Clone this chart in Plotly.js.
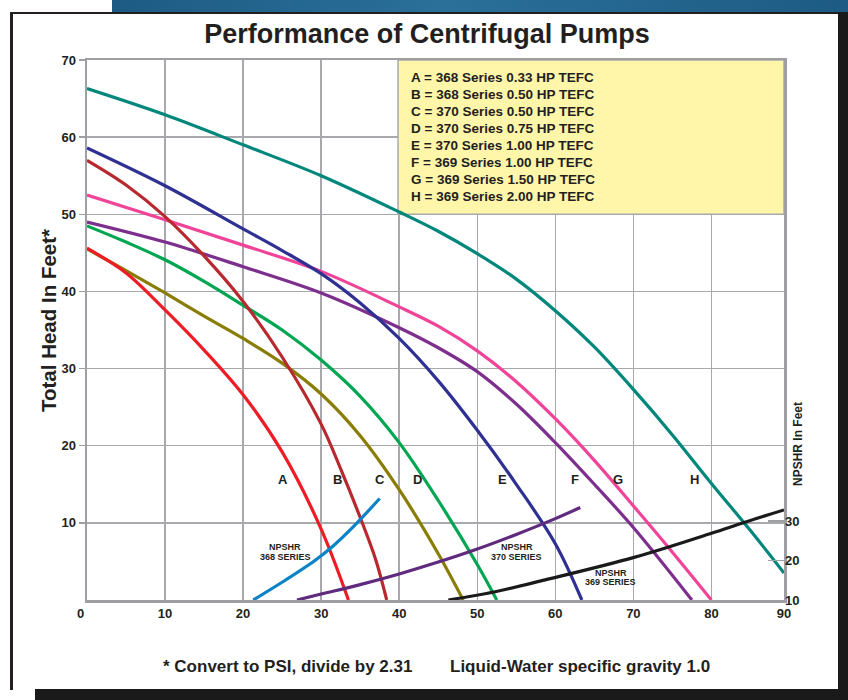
<!DOCTYPE html>
<html>
<head>
<meta charset="utf-8">
<script src="https://cdn.plot.ly/plotly-3.0.1.min.js"></script>
<style>
  html, body { margin:0; padding:0; background:#ffffff; }
  #wrap { position:relative; width:848px; height:700px; overflow:hidden; background:#ffffff; }
  .fr { position:absolute; }
  #chart { position:absolute; left:0; top:0; width:848px; height:700px; }
</style>
</head>
<body>
<div id="wrap">
  <div class="fr" style="left:112px;top:0;width:736px;height:12px;background:linear-gradient(90deg,#1d5b84 0%,#2a7099 45%,#1d5b84 100%);"></div>
  <div class="fr" style="left:10px;top:12px;width:828px;height:2px;background:#231f20;"></div>
  <div class="fr" style="left:10px;top:12px;width:3px;height:678px;background:#231f20;"></div>
  <div class="fr" style="left:838px;top:12px;width:10px;height:688px;background:#1a1a1a;"></div>
  <div class="fr" style="left:35px;top:689px;width:813px;height:11px;background:#1a1a1a;"></div>
  <div id="chart"></div>
</div>
<script>
// ---- Pump curves (flow in GPM, head in feet) ----
const xA = [0, 5, 10, 15, 20, 25, 30, 33.5];
const yA = [45.6, 42.4, 37.6, 32.4, 26.6, 19.2, 9.2, 0];
const xB = [0, 5, 10, 15, 20, 25, 30, 32.5, 35, 37, 38.4];
const yB = [57.0, 53.8, 49.7, 44.6, 38.7, 31.5, 22.8, 17.0, 10.7, 5.2, 0];
const xC = [0, 5, 10, 15, 20, 25, 30, 35, 40, 45, 48.2];
const yC = [45.5, 42.7, 39.8, 36.8, 33.9, 30.7, 26.7, 21.3, 14.3, 6.0, 0];
const xD = [0, 5, 10, 15, 20, 25, 30, 35, 40, 45, 50, 52.5];
const yD = [48.5, 46.4, 44.1, 41.3, 38.2, 35.0, 31.1, 26.4, 20.4, 12.9, 4.6, 0];
const xE = [0, 10, 20, 25, 30, 35, 40, 45, 50, 55, 60, 63.4];
const yE = [58.6, 53.7, 48.1, 45.3, 42.3, 38.5, 33.9, 28.4, 22.0, 15.0, 7.3, 0];
const xF = [0, 10, 20, 30, 40, 45, 50, 55, 60, 65, 70, 77.5];
const yF = [49.0, 46.4, 43.2, 39.8, 35.3, 32.7, 29.6, 25.4, 20.4, 15.0, 9.4, 0];
const xG = [0, 10, 20, 30, 40, 45, 50, 55, 60, 65, 70, 75, 80];
const yG = [52.5, 49.3, 46.0, 42.6, 38.0, 35.5, 32.3, 28.3, 23.5, 18.1, 12.2, 6.2, 0];
const xH = [0, 10, 20, 30, 40, 45, 50, 55, 60, 65, 70, 75, 80, 85, 89.3];
const yH = [66.3, 62.9, 59.0, 55.0, 50.3, 47.8, 44.9, 41.6, 37.5, 32.8, 27.3, 21.4, 15.1, 9.0, 3.5];

// ---- NPSHR curves (flow in GPM, NPSHR in feet, right axis) ----
const xN368 = [21.3, 25.4, 29.2, 31.5, 34.0, 37.5];
const yN368 = [10, 15.0, 20.0, 23.6, 28.3, 35.7];
const xN370 = [26.9, 30, 35, 40, 45, 50, 55, 60, 63.2];
const yN370 = [10, 11.5, 13.9, 16.6, 19.6, 22.9, 26.6, 30.6, 33.4];
const xN369 = [46.3, 52.3, 58.7, 70.1, 80.0, 84.3, 89.3];
const yN369 = [10, 12.1, 15.1, 20.8, 26.9, 29.7, 32.8];

// ---- Text ----
const curveLetters = ['A','B','C','D','E','F','G','H'];
const letterX = [25.15, 32.07, 37.6, 42.3, 53.2, 62.5, 68.0, 77.8];
const legendLines = [
  'A = 368 Series 0.33 HP TEFC',
  'B = 368 Series 0.50 HP TEFC',
  'C = 370 Series 0.50 HP TEFC',
  'D = 370 Series 0.75 HP TEFC',
  'E = 370 Series 1.00 HP TEFC',
  'F = 369 Series 1.00 HP TEFC',
  'G = 369 Series 1.50 HP TEFC',
  'H = 369 Series 2.00 HP TEFC'
];
const xTickVals = [10, 20, 30, 40, 50, 60, 70, 80, 89.3];
const xTickText = ['10','20','30','40','50','60','70','80','90'];
const yTickVals = [10, 20, 30, 40, 50, 60, 70];
const y2TickVals = [10, 20, 30];

const TXT = '#231f20';
const SANS = '"Liberation Sans", Arial, Helvetica, sans-serif';

function pump(x, y, color) {
  return {x: x, y: y, type: 'scatter', mode: 'lines', xaxis: 'x', yaxis: 'y',
    line: {color: color, width: 3.2, shape: 'spline', smoothing: 1.0}, hoverinfo: 'skip'};
}
function npshr(x, y, color) {
  return {x: x, y: y, type: 'scatter', mode: 'lines', xaxis: 'x', yaxis: 'y2',
    line: {color: color, width: 3.2, shape: 'spline', smoothing: 1.0}, hoverinfo: 'skip'};
}

const data = [
  pump(xH, yH, '#00877b'),
  pump(xG, yG, '#ef4498'),
  pump(xF, yF, '#7d2f8e'),
  pump(xE, yE, '#2e3192'),
  pump(xD, yD, '#00a651'),
  pump(xC, yC, '#8a7d06'),
  pump(xB, yB, '#b8292f'),
  pump(xA, yA, '#ee1c25'),
  npshr(xN368, yN368, '#0b83c6'),
  npshr(xN370, yN370, '#5f2b7f'),
  npshr(xN369, yN369, '#1a1a1a')
];

const PLOT_BOTTOM = 600, PX_PER_FT = 540 / 70;
const annotations = [];
legendLines.forEach(function (t, i) {
  const py = 77 + 17.14 * i;
  annotations.push({xref: 'x', yref: 'y', x: 41.25, y: (PLOT_BOTTOM - py) / PX_PER_FT,
    text: t, showarrow: false, xanchor: 'left', yanchor: 'middle',
    font: {family: SANS, size: 13.5, color: TXT, weight: 'bold'}});
});
curveLetters.forEach(function (t, i) {
  annotations.push({xref: 'x', yref: 'y', x: letterX[i], y: 15.56, text: t, showarrow: false,
    xanchor: 'center', yanchor: 'middle', font: {family: SANS, size: 13, color: TXT, weight: 'bold'}});
});
const npLab = [
  ['NPSHR', 25.4, 6.86], ['368 SERIES', 25.4, 5.62],
  ['NPSHR', 55.05, 6.86], ['370 SERIES', 55.05, 5.62],
  ['NPSHR', 67.1, 3.46], ['369 SERIES', 67.1, 2.29]
];
npLab.forEach(function (l) {
  annotations.push({xref: 'x', yref: 'y', x: l[1], y: l[2], text: l[0], showarrow: false,
    xanchor: 'center', yanchor: 'middle', font: {family: SANS, size: 9, color: TXT, weight: 'bold'}});
});
annotations.push({xref: 'paper', yref: 'paper', x: -7 / 697, y: -13 / 540, text: '0', showarrow: false,
  xanchor: 'center', yanchor: 'middle', font: {family: SANS, size: 13, color: TXT, weight: 'bold'}});
annotations.push({xref: 'paper', yref: 'paper', x: (48 - 87) / 697, y: (600 - 321) / 540,
  text: 'Total Head In Feet*', textangle: -90, showarrow: false, xanchor: 'center', yanchor: 'middle',
  font: {family: SANS, size: 20.5, color: TXT, weight: 'bold'}});
annotations.push({xref: 'paper', yref: 'paper', x: (798 - 87) / 697, y: (600 - 444) / 540,
  text: 'NPSHR In Feet', textangle: -90, showarrow: false, xanchor: 'center', yanchor: 'middle',
  font: {family: SANS, size: 12, color: TXT, weight: 'bold'}});
annotations.push({xref: 'paper', yref: 'paper', x: (287.5 - 87) / 697, y: (600 - 666) / 540,
  text: '* Convert to PSI, divide by 2.31', showarrow: false, xanchor: 'center', yanchor: 'middle',
  font: {family: SANS, size: 17, color: TXT, weight: 'bold'}});
annotations.push({xref: 'paper', yref: 'paper', x: (579.5 - 87) / 697, y: (600 - 666) / 540,
  text: 'Liquid-Water specific gravity 1.0', showarrow: false, xanchor: 'center', yanchor: 'middle',
  font: {family: SANS, size: 17, color: TXT, weight: 'bold'}});

const layout = {
  width: 848, height: 700,
  margin: {l: 87, r: 64, t: 60, b: 100, pad: 0},
  paper_bgcolor: 'rgba(0,0,0,0)',
  plot_bgcolor: '#ffffff',
  showlegend: false,
  hovermode: false,
  title: {text: 'Performance of Centrifugal Pumps', xref: 'container', yref: 'container',
    x: 427 / 848, y: 1 - 34 / 700, xanchor: 'center', yanchor: 'middle',
    font: {family: SANS, size: 27, color: TXT, weight: 'bold'}},
  xaxis: {range: [0, 89.3], tickvals: xTickVals, ticktext: xTickText, showgrid: true,
    gridcolor: '#a7a9ac', gridwidth: 1.5, zeroline: false, showline: true, linecolor: '#9d9fa2',
    linewidth: 2.5, mirror: true, ticks: '', tickfont: {family: SANS, size: 13, color: TXT, weight: 'bold'}},
  yaxis: {range: [0, 70], tickvals: yTickVals, showgrid: true, gridcolor: '#a7a9ac', gridwidth: 1.5,
    zeroline: false, showline: true, linecolor: '#9d9fa2', linewidth: 2.5, mirror: true,
    ticks: 'outside', ticklen: 6, tickwidth: 1.5, tickcolor: '#9d9fa2',
    tickfont: {family: SANS, size: 13, color: TXT, weight: 'bold'}},
  yaxis2: {overlaying: 'y', side: 'right', range: [10, 146.7], tickvals: y2TickVals, showgrid: false,
    zeroline: false, showline: false, ticks: 'inside', ticklen: 16, tickwidth: 1.5, tickcolor: '#9d9fa2',
    tickfont: {family: SANS, size: 13, color: TXT, weight: 'bold'}},
  shapes: [{type: 'rect', xref: 'x', yref: 'y', x0: 39.85, x1: 89.3, y0: 50, y1: 70, layer: 'between',
    fillcolor: '#fff6aa', line: {color: '#a7a9ac', width: 1.5}}],
  annotations: annotations
};

Plotly.newPlot('chart', data, layout, {staticPlot: true, displayModeBar: false});
</script>
</body>
</html>
